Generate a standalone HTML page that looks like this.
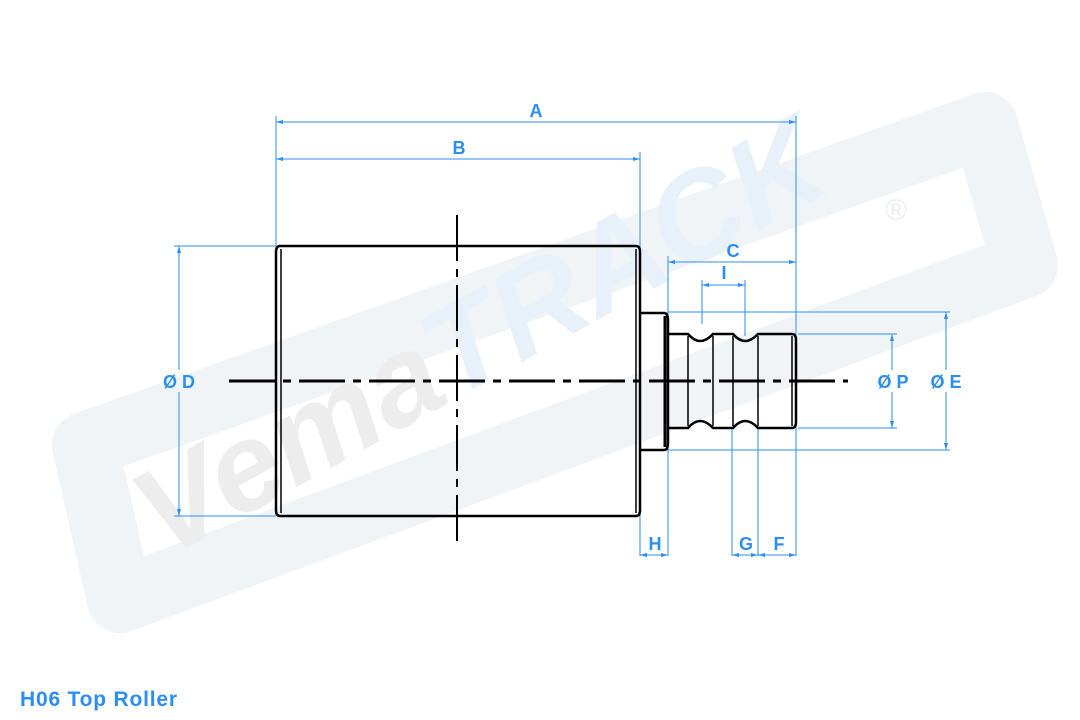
<!DOCTYPE html>
<html><head><meta charset="utf-8"><style>
html,body{margin:0;padding:0;background:#fff;width:1080px;height:720px;overflow:hidden}
svg{display:block}
</style></head><body>
<svg width="1080" height="720" viewBox="0 0 1080 720" xmlns="http://www.w3.org/2000/svg" font-family="Liberation Sans, sans-serif">
<!-- watermark -->
<polygon points="85,445 985,125 1025,265 120,600" fill="none" stroke="#f0f4f7" stroke-width="66" stroke-linejoin="round"/>
<g transform="translate(165,560) rotate(-29)" font-weight="bold" font-style="italic" font-size="125">
<text x="0" y="0" fill="#ededed">Vema<tspan fill="#e8f1f9">TRACK</tspan></text>
</g>
<text x="885" y="220" font-size="30" fill="#eef0f3" font-weight="bold">®</text>

<!-- blue dims -->
<g stroke="#2b8ef0" stroke-width="1" fill="none">
<line x1="276" y1="116" x2="276" y2="246"/>
<line x1="796" y1="116" x2="796" y2="556"/>
<line x1="276" y1="122" x2="796" y2="122"/>
<line x1="640" y1="152" x2="640" y2="556"/>
<line x1="276" y1="159" x2="640" y2="159"/>
<line x1="668" y1="256" x2="668" y2="556"/>
<line x1="668" y1="262" x2="796" y2="262"/>
<line x1="702" y1="280" x2="702" y2="324"/>
<line x1="745" y1="280" x2="745" y2="336"/>
<line x1="702" y1="285" x2="745" y2="285"/>
<line x1="174" y1="246" x2="276" y2="246"/>
<line x1="174" y1="516" x2="276" y2="516"/>
<line x1="179" y1="246" x2="179" y2="370"/>
<line x1="179" y1="392" x2="179" y2="516"/>
<line x1="798" y1="334" x2="897" y2="334"/>
<line x1="798" y1="428" x2="897" y2="428"/>
<line x1="892" y1="334" x2="892" y2="370"/>
<line x1="892" y1="392" x2="892" y2="428"/>
<line x1="668" y1="312" x2="950" y2="312"/>
<line x1="668" y1="450" x2="950" y2="450"/>
<line x1="946" y1="312" x2="946" y2="370"/>
<line x1="946" y1="392" x2="946" y2="450"/>
<line x1="732" y1="428" x2="732" y2="556"/>
<line x1="758" y1="428" x2="758" y2="556"/>
<line x1="640" y1="555" x2="668" y2="555"/>
<line x1="732" y1="555" x2="796" y2="555"/>
</g>
<g fill="#2b8ef0">
<path d="M276,122 l7,-2 v4z M796,122 l-7,-2 v4z M276,159 l7,-2 v4z M640,159 l-7,-2 v4z M668,262 l7,-2 v4z M796,262 l-7,-2 v4z M702,285 l7,-2 v4z M745,285 l-7,-2 v4z"/>
<path d="M179,246 l-2,7 h4z M179,516 l-2,-7 h4z M892,334 l-2,7 h4z M892,428 l-2,-7 h4z M946,312 l-2,7 h4z M946,450 l-2,-7 h4z"/>
<path d="M640,555 l7,-2 v4z M668,555 l-7,-2 v4z M732,555 l7,-2 v4z M758,555 l-7,-2 v4z M758,555 l7,-2 v4z M796,555 l-7,-2 v4z"/>
</g>
<g fill="#2b8ef0" font-weight="bold" font-size="18" text-anchor="middle">
<text x="536" y="117">A</text>
<text x="459" y="154">B</text>
<text x="733" y="257">C</text>
<text x="724" y="279">I</text>
<text x="179" y="388">Ø D</text>
<text x="893" y="388">Ø P</text>
<text x="946" y="388">Ø E</text>
<text x="655" y="550">H</text>
<text x="746" y="550">G</text>
<text x="779" y="550">F</text>
</g>
<text x="20" y="706" fill="#2b8ef0" font-weight="bold" font-size="21" letter-spacing="0.8">H06 Top Roller</text>

<!-- part -->
<g stroke="#000" fill="none" stroke-width="2.5">
<path d="M280,246 H636 Q640,246 640,252 V510 Q640,516 636,516 H280 Q276,516 276,510 V252 Q276,246 280,246Z"/>
<line x1="281" y1="249" x2="281" y2="513" stroke-width="1.5"/>
<line x1="636" y1="249" x2="636" y2="513" stroke-width="1.5"/>
<path d="M640,313 H664 Q668,313 668,320 V443 Q668,450 664,450 H640"/>
<line x1="665" y1="316" x2="665" y2="447" stroke-width="3"/>
<path d="M668,334 H688 Q700,348 713,334 H733 Q745,348 758,334 H792 Q796,334 796,340 V422 Q796,428 792,428 H758 Q745,414 733,428 H713 Q700,414 688,428 H668"/>
<line x1="688" y1="336" x2="688" y2="426" stroke-width="1.5"/>
<line x1="713" y1="336" x2="713" y2="426" stroke-width="1.5"/>
<line x1="733" y1="336" x2="733" y2="426" stroke-width="1.5"/>
<line x1="758" y1="336" x2="758" y2="426" stroke-width="1.5"/>
<line x1="792" y1="336" x2="792" y2="426" stroke-width="1.5"/>
<line x1="229" y1="381" x2="848" y2="381" stroke-width="3" stroke-dasharray="46,8,8,8"/>
<line x1="457" y1="215" x2="457" y2="546" stroke-width="2" stroke-dasharray="46,8,8,8"/>
</g>
</svg>
</body></html>
